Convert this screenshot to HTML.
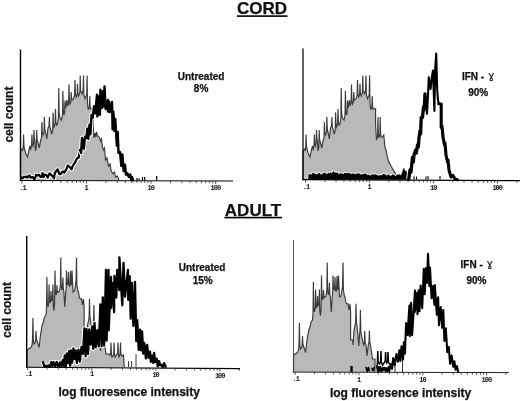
<!DOCTYPE html>
<html><head><meta charset="utf-8"><title>CORD / ADULT histograms</title>
<style>
html,body{margin:0;padding:0;background:#fff;width:520px;height:401px;overflow:hidden}
svg text{font-family:"Liberation Sans",Arial,Helvetica,sans-serif;font-weight:bold;fill:#111;text-anchor:middle;stroke:#111;stroke-width:0.25px}
.ttl{font-size:17px}
.lab{font-size:10px}
.ax{font-size:12px}
svg .gm{font-family:"DejaVu Sans","Liberation Sans",sans-serif;font-weight:normal;font-size:11px;stroke-width:0.15px}
svg text.tk{stroke:none;font-family:"Liberation Mono","DejaVu Sans Mono",monospace;font-weight:bold;font-size:7px;letter-spacing:-1.0px;fill:#111}
</style></head><body>
<svg width="520" height="401" viewBox="0 0 520 401" style="display:block;position:absolute;left:0;top:0;will-change:transform">
<rect width="520" height="401" fill="#fff"/>
<polygon points="20.5,180.6 20.5,152.0 22.0,149.0 22.8,150.0 23.2,147.2 23.6,134.5 24.0,146.4 24.5,149.0 26.0,154.0 27.5,157.0 28.8,151.0 30.0,146.0 30.8,149.0 31.5,146.4 31.9,134.5 32.3,143.9 33.0,146.0 33.6,143.1 34.0,130.0 34.4,139.0 34.9,141.0 35.5,151.0 36.3,147.2 36.7,130.0 37.1,139.8 37.8,142.0 39.3,148.0 40.5,141.0 41.5,137.6 41.9,122.0 42.3,132.7 43.0,135.0 44.0,131.8 44.4,117.0 44.8,129.3 45.5,132.0 46.8,139.0 48.0,128.0 49.0,126.0 49.4,117.0 49.8,126.8 50.5,129.0 51.8,134.0 52.7,130.1 53.1,112.5 53.5,124.4 54.0,127.0 55.1,123.8 55.5,109.0 55.9,122.1 56.5,125.0 57.5,124.0 58.4,117.5 58.8,88.0 59.1,112.6 60.0,118.0 61.5,120.0 62.5,114.8 62.9,91.0 63.3,110.7 64.0,115.0 64.6,112.4 65.0,100.6 65.4,106.7 65.8,108.0 66.9,100.0 67.8,106.0 68.6,102.1 69.0,84.4 69.4,100.5 70.0,104.0 70.9,101.8 71.2,92.0 71.6,98.6 72.2,100.0 73.5,98.8 74.6,95.4 75.0,80.0 75.4,93.9 76.2,97.0 77.1,94.6 77.5,83.8 77.9,93.8 78.7,96.0 79.9,92.3 80.2,75.6 80.6,90.5 81.9,93.8 83.1,90.5 83.5,75.6 83.9,94.6 85.0,98.8 86.7,94.6 87.1,75.6 87.5,102.8 88.1,108.8 89.0,108.8 89.4,106.5 89.8,96.0 90.1,106.5 90.5,108.8 93.1,108.8 93.1,125.0 94.0,138.0 95.0,133.0 95.8,137.0 96.5,132.0 97.5,136.0 98.7,137.0 99.5,137.5 100.5,141.0 101.5,139.0 102.5,147.5 103.5,150.0 104.5,148.0 105.5,160.0 107.0,158.0 108.5,166.0 110.0,164.0 111.2,171.0 113.1,173.8 114.5,172.0 115.5,177.0 117.5,176.0 119.0,180.6" fill="#b9b9b9" stroke="none"/>
<polyline points="20.5,180.6 20.5,152.0 22.0,149.0 22.8,150.0 23.2,147.2 23.6,134.5 24.0,146.4 24.5,149.0 26.0,154.0 27.5,157.0 28.8,151.0 30.0,146.0 30.8,149.0 31.5,146.4 31.9,134.5 32.3,143.9 33.0,146.0 33.6,143.1 34.0,130.0 34.4,139.0 34.9,141.0 35.5,151.0 36.3,147.2 36.7,130.0 37.1,139.8 37.8,142.0 39.3,148.0 40.5,141.0 41.5,137.6 41.9,122.0 42.3,132.7 43.0,135.0 44.0,131.8 44.4,117.0 44.8,129.3 45.5,132.0 46.8,139.0 48.0,128.0 49.0,126.0 49.4,117.0 49.8,126.8 50.5,129.0 51.8,134.0 52.7,130.1 53.1,112.5 53.5,124.4 54.0,127.0 55.1,123.8 55.5,109.0 55.9,122.1 56.5,125.0 57.5,124.0 58.4,117.5 58.8,88.0 59.1,112.6 60.0,118.0 61.5,120.0 62.5,114.8 62.9,91.0 63.3,110.7 64.0,115.0 64.6,112.4 65.0,100.6 65.4,106.7 65.8,108.0 66.9,100.0 67.8,106.0 68.6,102.1 69.0,84.4 69.4,100.5 70.0,104.0 70.9,101.8 71.2,92.0 71.6,98.6 72.2,100.0 73.5,98.8 74.6,95.4 75.0,80.0 75.4,93.9 76.2,97.0 77.1,94.6 77.5,83.8 77.9,93.8 78.7,96.0 79.9,92.3 80.2,75.6 80.6,90.5 81.9,93.8 83.1,90.5 83.5,75.6 83.9,94.6 85.0,98.8 86.7,94.6 87.1,75.6 87.5,102.8 88.1,108.8 89.0,108.8 89.4,106.5 89.8,96.0 90.1,106.5 90.5,108.8 93.1,108.8 93.1,125.0 94.0,138.0 95.0,133.0 95.8,137.0 96.5,132.0 97.5,136.0 98.7,137.0 99.5,137.5 100.5,141.0 101.5,139.0 102.5,147.5 103.5,150.0 104.5,148.0 105.5,160.0 107.0,158.0 108.5,166.0 110.0,164.0 111.2,171.0 113.1,173.8 114.5,172.0 115.5,177.0 117.5,176.0 119.0,180.6" fill="none" stroke="#3a3a3a" stroke-width="1.15" stroke-linejoin="miter"/>
<polyline points="21.0,177.0 21.9,178.5 22.6,178.2 23.9,176.7 25.4,177.1 26.8,176.5 27.5,177.6 29.6,175.3 30.6,177.6 32.9,177.0 34.2,179.4 34.9,178.7 36.0,174.7 36.8,175.7 38.9,174.6 40.6,177.2 41.8,176.5 42.5,173.0 43.5,177.2 44.9,174.5 46.5,175.3 47.7,177.6 49.5,173.3 51.2,174.9 53.0,176.7 54.0,178.3 54.7,173.4 56.4,170.7 57.7,169.4 59.2,173.9 60.6,174.2 61.6,172.6 63.1,171.4 64.3,172.6 66.3,169.4 67.9,165.5 69.5,166.9 71.6,169.3 72.5,166.4 74.1,163.7 75.3,162.2 76.0,160.2 77.7,157.5 78.7,157.8 80.0,150.0" fill="none" stroke="#fff" stroke-width="4.2" stroke-linejoin="round"/>
<polyline points="21.0,177.0 21.9,178.5 22.6,178.2 23.9,176.7 25.4,177.1 26.8,176.5 27.5,177.6 29.6,175.3 30.6,177.6 32.9,177.0 34.2,179.4 34.9,178.7 36.0,174.7 36.8,175.7 38.9,174.6 40.6,177.2 41.8,176.5 42.5,173.0 43.5,177.2 44.9,174.5 46.5,175.3 47.7,177.6 49.5,173.3 51.2,174.9 53.0,176.7 54.0,178.3 54.7,173.4 56.4,170.7 57.7,169.4 59.2,173.9 60.6,174.2 61.6,172.6 63.1,171.4 64.3,172.6 66.3,169.4 67.9,165.5 69.5,166.9 71.6,169.3 72.5,166.4 74.1,163.7 75.3,162.2 76.0,160.2 77.7,157.5 78.7,157.8 80.0,150.0" fill="none" stroke="#000" stroke-width="2.2" stroke-linejoin="round" stroke-linecap="round"/>
<polyline points="80.0,150.0 81.1,152.9 82.0,138.0 83.9,148.7 85.0,136.6 86.4,137.9 87.3,128.8 88.3,139.0 89.5,124.6 90.4,134.3 91.5,115.0 92.7,117.8 94.0,106.1 95.2,113.4 97.0,94.6 97.4,116.4 98.8,96.4 99.9,114.7 100.4,89.6 102.0,107.9 102.9,91.1 103.7,106.6 104.5,86.5 105.7,109.1 108.0,100.0 108.0,111.6 109.0,101.5 109.9,112.1 112.0,102.0 112.6,129.3 113.4,111.6 114.4,130.9 115.3,119.0 116.8,145.6 117.7,131.9 118.5,152.9 120.0,152.0 121.3,166.0 122.4,154.5 123.7,171.2 125.0,164.8 126.0,174.7 127.5,173.3 128.8,177.0 130.2,174.4 131.3,179.9 132.1,177.1 133.1,180.4" fill="none" stroke="#fff" stroke-width="4.3" stroke-linejoin="round"/>
<polyline points="80.0,150.0 81.1,152.9 82.0,138.0 83.9,148.7 85.0,136.6 86.4,137.9 87.3,128.8 88.3,139.0 89.5,124.6 90.4,134.3 91.5,115.0 92.7,117.8 94.0,106.1 95.2,113.4 97.0,94.6 97.4,116.4 98.8,96.4 99.9,114.7 100.4,89.6 102.0,107.9 102.9,91.1 103.7,106.6 104.5,86.5 105.7,109.1 108.0,100.0 108.0,111.6 109.0,101.5 109.9,112.1 112.0,102.0 112.6,129.3 113.4,111.6 114.4,130.9 115.3,119.0 116.8,145.6 117.7,131.9 118.5,152.9 120.0,152.0 121.3,166.0 122.4,154.5 123.7,171.2 125.0,164.8 126.0,174.7 127.5,173.3 128.8,177.0 130.2,174.4 131.3,179.9 132.1,177.1 133.1,180.4" fill="none" stroke="#000" stroke-width="2.4" stroke-linejoin="round" stroke-linecap="round"/>
<line x1="20.5" y1="49.5" x2="20.5" y2="181.1" stroke="#000" stroke-width="1.40"/>
<line x1="19.9" y1="180.50" x2="233.0" y2="181.00" stroke="#000" stroke-width="1.15"/>
<line x1="21.9" y1="180.5" x2="21.9" y2="183.5" stroke="#333" stroke-width="0.8"/>
<line x1="41.3" y1="180.5" x2="41.3" y2="182.8" stroke="#333" stroke-width="0.8"/>
<line x1="52.7" y1="180.6" x2="52.7" y2="182.9" stroke="#333" stroke-width="0.8"/>
<line x1="60.8" y1="180.6" x2="60.8" y2="182.9" stroke="#333" stroke-width="0.8"/>
<line x1="67.1" y1="180.6" x2="67.1" y2="182.9" stroke="#333" stroke-width="0.8"/>
<line x1="72.2" y1="180.6" x2="72.2" y2="182.9" stroke="#333" stroke-width="0.8"/>
<line x1="76.5" y1="180.6" x2="76.5" y2="182.9" stroke="#333" stroke-width="0.8"/>
<line x1="80.2" y1="180.6" x2="80.2" y2="182.9" stroke="#333" stroke-width="0.8"/>
<line x1="83.5" y1="180.6" x2="83.5" y2="182.9" stroke="#333" stroke-width="0.8"/>
<line x1="86.5" y1="180.7" x2="86.5" y2="183.7" stroke="#333" stroke-width="0.8"/>
<line x1="105.9" y1="180.7" x2="105.9" y2="183.0" stroke="#333" stroke-width="0.8"/>
<line x1="117.3" y1="180.7" x2="117.3" y2="183.0" stroke="#333" stroke-width="0.8"/>
<line x1="125.4" y1="180.7" x2="125.4" y2="183.0" stroke="#333" stroke-width="0.8"/>
<line x1="131.7" y1="180.8" x2="131.7" y2="183.1" stroke="#333" stroke-width="0.8"/>
<line x1="136.8" y1="180.8" x2="136.8" y2="183.1" stroke="#333" stroke-width="0.8"/>
<line x1="141.1" y1="180.8" x2="141.1" y2="183.1" stroke="#333" stroke-width="0.8"/>
<line x1="144.8" y1="180.8" x2="144.8" y2="183.1" stroke="#333" stroke-width="0.8"/>
<line x1="148.1" y1="180.8" x2="148.1" y2="183.1" stroke="#333" stroke-width="0.8"/>
<line x1="151.1" y1="180.8" x2="151.1" y2="183.8" stroke="#333" stroke-width="0.8"/>
<line x1="170.5" y1="180.9" x2="170.5" y2="183.2" stroke="#333" stroke-width="0.8"/>
<line x1="181.9" y1="180.9" x2="181.9" y2="183.2" stroke="#333" stroke-width="0.8"/>
<line x1="190.0" y1="180.9" x2="190.0" y2="183.2" stroke="#333" stroke-width="0.8"/>
<line x1="196.3" y1="180.9" x2="196.3" y2="183.2" stroke="#333" stroke-width="0.8"/>
<line x1="201.4" y1="180.9" x2="201.4" y2="183.2" stroke="#333" stroke-width="0.8"/>
<line x1="205.7" y1="180.9" x2="205.7" y2="183.2" stroke="#333" stroke-width="0.8"/>
<line x1="209.4" y1="180.9" x2="209.4" y2="183.2" stroke="#333" stroke-width="0.8"/>
<line x1="212.7" y1="181.0" x2="212.7" y2="183.3" stroke="#333" stroke-width="0.8"/>
<line x1="215.7" y1="181.0" x2="215.7" y2="184.0" stroke="#333" stroke-width="0.8"/>
<text x="22.4" y="189.6" class="tk">.1</text>
<text x="86.2" y="189.6" class="tk">1</text>
<text x="150.8" y="189.5" class="tk">10</text>
<text x="215.4" y="189.5" class="tk">100</text>
<line x1="142.5" y1="180.5" x2="142.5" y2="177.0" stroke="#000" stroke-width="1.2"/>
<line x1="144.7" y1="180.5" x2="144.7" y2="177.0" stroke="#000" stroke-width="1.2"/>
<line x1="156.7" y1="180.5" x2="156.7" y2="176.0" stroke="#000" stroke-width="1.2"/>
<line x1="137.0" y1="180.5" x2="137.0" y2="178.0" stroke="#000" stroke-width="1.2"/>
<line x1="139.0" y1="180.5" x2="139.0" y2="178.5" stroke="#000" stroke-width="1.2"/>
<polygon points="303.0,179.5 303.0,152.0 304.5,149.0 305.3,150.0 305.7,147.2 306.1,134.5 306.5,146.4 307.0,149.0 308.5,154.0 310.0,157.0 311.3,151.0 312.5,146.0 313.3,149.0 314.0,146.4 314.4,134.5 314.8,143.9 315.5,146.0 316.1,143.1 316.5,130.0 316.9,139.0 317.4,141.0 318.0,151.0 318.8,147.2 319.2,130.0 319.6,139.8 320.3,142.0 321.8,148.0 323.0,141.0 324.0,137.6 324.4,122.0 324.8,132.7 325.5,135.0 326.5,131.8 326.9,117.0 327.3,129.3 328.0,132.0 329.3,139.0 330.5,128.0 331.5,126.0 331.9,117.0 332.3,126.8 333.0,129.0 334.3,134.0 335.2,130.1 335.6,112.5 336.0,124.4 336.5,127.0 337.6,123.8 338.0,109.0 338.4,122.1 339.0,125.0 340.0,124.0 340.9,117.5 341.2,88.0 341.6,112.6 342.5,118.0 344.0,120.0 345.0,114.8 345.4,91.0 345.8,110.7 346.5,115.0 347.1,112.4 347.5,100.6 347.9,106.7 348.3,108.0 349.4,100.0 350.3,106.0 351.1,102.1 351.5,84.4 351.9,100.5 352.5,104.0 353.4,101.8 353.8,92.0 354.1,98.6 354.7,100.0 356.0,98.8 357.1,95.4 357.5,80.0 357.9,93.9 358.7,97.0 359.6,94.6 360.0,83.8 360.4,93.8 361.2,96.0 362.4,92.3 362.8,75.6 363.1,90.5 364.4,93.8 365.6,90.5 366.0,75.6 366.4,94.6 367.5,98.8 369.2,94.6 369.6,75.6 370.0,102.8 370.6,108.8 371.5,108.8 371.9,106.5 372.2,96.0 372.6,106.5 373.0,108.8 375.6,108.8 375.6,125.0 376.5,140.0 377.6,135.9 378.0,117.0 378.4,134.2 379.0,138.0 379.9,134.2 380.2,117.0 380.6,133.4 381.2,137.0 382.0,137.5 383.8,135.0 385.0,147.5 386.0,150.0 388.0,160.0 391.0,166.0 393.8,171.0 395.6,173.8 398.0,177.0 400.0,179.5" fill="#b9b9b9" stroke="none"/>
<polyline points="303.0,179.5 303.0,152.0 304.5,149.0 305.3,150.0 305.7,147.2 306.1,134.5 306.5,146.4 307.0,149.0 308.5,154.0 310.0,157.0 311.3,151.0 312.5,146.0 313.3,149.0 314.0,146.4 314.4,134.5 314.8,143.9 315.5,146.0 316.1,143.1 316.5,130.0 316.9,139.0 317.4,141.0 318.0,151.0 318.8,147.2 319.2,130.0 319.6,139.8 320.3,142.0 321.8,148.0 323.0,141.0 324.0,137.6 324.4,122.0 324.8,132.7 325.5,135.0 326.5,131.8 326.9,117.0 327.3,129.3 328.0,132.0 329.3,139.0 330.5,128.0 331.5,126.0 331.9,117.0 332.3,126.8 333.0,129.0 334.3,134.0 335.2,130.1 335.6,112.5 336.0,124.4 336.5,127.0 337.6,123.8 338.0,109.0 338.4,122.1 339.0,125.0 340.0,124.0 340.9,117.5 341.2,88.0 341.6,112.6 342.5,118.0 344.0,120.0 345.0,114.8 345.4,91.0 345.8,110.7 346.5,115.0 347.1,112.4 347.5,100.6 347.9,106.7 348.3,108.0 349.4,100.0 350.3,106.0 351.1,102.1 351.5,84.4 351.9,100.5 352.5,104.0 353.4,101.8 353.8,92.0 354.1,98.6 354.7,100.0 356.0,98.8 357.1,95.4 357.5,80.0 357.9,93.9 358.7,97.0 359.6,94.6 360.0,83.8 360.4,93.8 361.2,96.0 362.4,92.3 362.8,75.6 363.1,90.5 364.4,93.8 365.6,90.5 366.0,75.6 366.4,94.6 367.5,98.8 369.2,94.6 369.6,75.6 370.0,102.8 370.6,108.8 371.5,108.8 371.9,106.5 372.2,96.0 372.6,106.5 373.0,108.8 375.6,108.8 375.6,125.0 376.5,140.0 377.6,135.9 378.0,117.0 378.4,134.2 379.0,138.0 379.9,134.2 380.2,117.0 380.6,133.4 381.2,137.0 382.0,137.5 383.8,135.0 385.0,147.5 386.0,150.0 388.0,160.0 391.0,166.0 393.8,171.0 395.6,173.8 398.0,177.0 400.0,179.5" fill="none" stroke="#3a3a3a" stroke-width="1.15" stroke-linejoin="miter"/>
<polygon points="308.5,179.6 308.5,174.6 309.7,174.5 311.6,174.7 312.7,172.9 313.7,172.9 314.7,173.9 316.4,174.5 317.7,174.1 319.3,173.0 320.8,174.8 322.4,174.2 323.7,172.9 325.3,173.0 326.9,174.6 328.1,172.9 329.8,173.6 330.8,172.3 331.7,174.0 333.3,171.5 335.0,172.7 336.5,173.0 337.8,172.7 338.6,174.7 340.1,173.5 341.8,173.4 343.5,174.5 344.5,173.1 345.6,173.2 347.0,173.2 348.2,173.1 349.9,173.5 351.2,174.1 352.9,173.8 354.6,174.1 355.9,174.2 356.7,174.0 357.7,173.4 359.3,173.6 360.6,174.9 362.0,174.0 363.3,174.5 364.9,173.7 366.2,174.0 367.3,175.2 368.6,174.7 370.2,175.7 371.4,174.9 372.7,174.7 374.2,174.6 375.6,174.7 377.3,175.3 379.0,176.1 380.1,175.0 381.8,175.8 382.8,174.2 384.0,174.2 385.0,174.3 386.5,175.8 388.2,174.4 389.7,175.5 390.7,176.2 392.5,174.7 394.2,175.0 395.5,176.6 397.2,174.5 398.4,175.1 399.5,174.4 400.6,175.4 401.4,174.9 402.7,171.3 403.8,168.2 405.1,170.9 406.9,171.7 408.7,174.9 408.8,179.6" fill="#000" stroke="#fff" stroke-width="2.2" stroke-linejoin="round"/>
<polygon points="308.5,179.6 308.5,174.6 309.7,174.5 311.6,174.7 312.7,172.9 313.7,172.9 314.7,173.9 316.4,174.5 317.7,174.1 319.3,173.0 320.8,174.8 322.4,174.2 323.7,172.9 325.3,173.0 326.9,174.6 328.1,172.9 329.8,173.6 330.8,172.3 331.7,174.0 333.3,171.5 335.0,172.7 336.5,173.0 337.8,172.7 338.6,174.7 340.1,173.5 341.8,173.4 343.5,174.5 344.5,173.1 345.6,173.2 347.0,173.2 348.2,173.1 349.9,173.5 351.2,174.1 352.9,173.8 354.6,174.1 355.9,174.2 356.7,174.0 357.7,173.4 359.3,173.6 360.6,174.9 362.0,174.0 363.3,174.5 364.9,173.7 366.2,174.0 367.3,175.2 368.6,174.7 370.2,175.7 371.4,174.9 372.7,174.7 374.2,174.6 375.6,174.7 377.3,175.3 379.0,176.1 380.1,175.0 381.8,175.8 382.8,174.2 384.0,174.2 385.0,174.3 386.5,175.8 388.2,174.4 389.7,175.5 390.7,176.2 392.5,174.7 394.2,175.0 395.5,176.6 397.2,174.5 398.4,175.1 399.5,174.4 400.6,175.4 401.4,174.9 402.7,171.3 403.8,168.2 405.1,170.9 406.9,171.7 408.7,174.9 408.8,179.6" fill="#000" stroke="#000" stroke-width="0.5" stroke-linejoin="round"/>
<polyline points="408.8,179.0 410.0,170.0 411.0,172.0 412.5,157.5 413.3,162.0 414.0,155.0 415.6,150.0 416.3,153.0 417.5,145.0 418.3,147.0 419.0,138.0 420.0,131.0 420.6,134.0 421.2,117.5 422.5,117.5 423.5,107.0 424.2,110.0 425.0,93.8" fill="none" stroke="#fff" stroke-width="5.3" stroke-linejoin="round"/>
<polyline points="408.8,179.0 410.0,170.0 411.0,172.0 412.5,157.5 413.3,162.0 414.0,155.0 415.6,150.0 416.3,153.0 417.5,145.0 418.3,147.0 419.0,138.0 420.0,131.0 420.6,134.0 421.2,117.5 422.5,117.5 423.5,107.0 424.2,110.0 425.0,93.8" fill="none" stroke="#000" stroke-width="3.3" stroke-linejoin="round" stroke-linecap="round"/>
<polyline points="438.8,103.8 441.2,104.0 441.2,127.5 442.0,126.0 443.0,137.0 444.5,145.0 445.0,143.0 446.0,155.0 447.5,162.0 448.0,160.0 449.0,170.0 451.0,177.0 453.0,175.5 455.0,179.0 457.5,179.8" fill="none" stroke="#fff" stroke-width="5.1" stroke-linejoin="round"/>
<polyline points="438.8,103.8 441.2,104.0 441.2,127.5 442.0,126.0 443.0,137.0 444.5,145.0 445.0,143.0 446.0,155.0 447.5,162.0 448.0,160.0 449.0,170.0 451.0,177.0 453.0,175.5 455.0,179.0 457.5,179.8" fill="none" stroke="#000" stroke-width="3.1" stroke-linejoin="round" stroke-linecap="round"/>
<polyline points="425.0,93.8 426.0,100.0 427.0,113.8 428.0,95.0 428.8,77.4 429.7,85.0 430.6,89.0 431.5,80.0 433.0,70.5 434.4,111.0 435.2,68.0 436.2,53.6 437.2,90.0 438.0,100.0 438.8,103.8" fill="none" stroke="#000" stroke-width="2.1" stroke-linejoin="round" stroke-linecap="round"/>
<line x1="303.0" y1="48.5" x2="303.0" y2="180.2" stroke="#000" stroke-width="1.25"/>
<line x1="302.4" y1="179.60" x2="520.5" y2="180.70" stroke="#000" stroke-width="1.15"/>
<line x1="305.5" y1="179.6" x2="305.5" y2="182.6" stroke="#333" stroke-width="0.8"/>
<line x1="324.8" y1="179.7" x2="324.8" y2="182.0" stroke="#333" stroke-width="0.8"/>
<line x1="336.0" y1="179.8" x2="336.0" y2="182.1" stroke="#333" stroke-width="0.8"/>
<line x1="344.0" y1="179.8" x2="344.0" y2="182.1" stroke="#333" stroke-width="0.8"/>
<line x1="350.2" y1="179.8" x2="350.2" y2="182.1" stroke="#333" stroke-width="0.8"/>
<line x1="355.3" y1="179.9" x2="355.3" y2="182.2" stroke="#333" stroke-width="0.8"/>
<line x1="359.6" y1="179.9" x2="359.6" y2="182.2" stroke="#333" stroke-width="0.8"/>
<line x1="363.3" y1="179.9" x2="363.3" y2="182.2" stroke="#333" stroke-width="0.8"/>
<line x1="366.6" y1="179.9" x2="366.6" y2="182.2" stroke="#333" stroke-width="0.8"/>
<line x1="369.5" y1="179.9" x2="369.5" y2="182.9" stroke="#333" stroke-width="0.8"/>
<line x1="388.8" y1="180.0" x2="388.8" y2="182.3" stroke="#333" stroke-width="0.8"/>
<line x1="400.0" y1="180.1" x2="400.0" y2="182.4" stroke="#333" stroke-width="0.8"/>
<line x1="408.0" y1="180.1" x2="408.0" y2="182.4" stroke="#333" stroke-width="0.8"/>
<line x1="414.2" y1="180.2" x2="414.2" y2="182.5" stroke="#333" stroke-width="0.8"/>
<line x1="419.3" y1="180.2" x2="419.3" y2="182.5" stroke="#333" stroke-width="0.8"/>
<line x1="423.6" y1="180.2" x2="423.6" y2="182.5" stroke="#333" stroke-width="0.8"/>
<line x1="427.3" y1="180.2" x2="427.3" y2="182.5" stroke="#333" stroke-width="0.8"/>
<line x1="430.6" y1="180.2" x2="430.6" y2="182.5" stroke="#333" stroke-width="0.8"/>
<line x1="433.5" y1="180.3" x2="433.5" y2="183.3" stroke="#333" stroke-width="0.8"/>
<line x1="452.8" y1="180.4" x2="452.8" y2="182.7" stroke="#333" stroke-width="0.8"/>
<line x1="464.0" y1="180.4" x2="464.0" y2="182.7" stroke="#333" stroke-width="0.8"/>
<line x1="472.0" y1="180.5" x2="472.0" y2="182.8" stroke="#333" stroke-width="0.8"/>
<line x1="478.2" y1="180.5" x2="478.2" y2="182.8" stroke="#333" stroke-width="0.8"/>
<line x1="483.3" y1="180.5" x2="483.3" y2="182.8" stroke="#333" stroke-width="0.8"/>
<line x1="487.6" y1="180.5" x2="487.6" y2="182.8" stroke="#333" stroke-width="0.8"/>
<line x1="491.3" y1="180.6" x2="491.3" y2="182.9" stroke="#333" stroke-width="0.8"/>
<line x1="494.6" y1="180.6" x2="494.6" y2="182.9" stroke="#333" stroke-width="0.8"/>
<line x1="497.5" y1="180.6" x2="497.5" y2="183.6" stroke="#333" stroke-width="0.8"/>
<line x1="516.8" y1="180.7" x2="516.8" y2="183.0" stroke="#333" stroke-width="0.8"/>
<text x="306.0" y="188.7" class="tk">.1</text>
<text x="369.2" y="189.3" class="tk">1</text>
<text x="433.2" y="189.8" class="tk">10</text>
<text x="497.2" y="190.4" class="tk">100</text>
<line x1="414.0" y1="179.5" x2="414.0" y2="176.5" stroke="#000" stroke-width="1.1"/>
<line x1="416.5" y1="179.5" x2="416.5" y2="176.5" stroke="#000" stroke-width="1.1"/>
<line x1="426.0" y1="179.5" x2="426.0" y2="176.5" stroke="#000" stroke-width="1.1"/>
<line x1="428.0" y1="179.5" x2="428.0" y2="176.0" stroke="#000" stroke-width="1.1"/>
<line x1="440.0" y1="179.5" x2="440.0" y2="176.0" stroke="#000" stroke-width="1.1"/>
<polygon points="27.0,367.0 27.0,351.0 28.5,349.0 31.0,347.5 32.0,345.0 32.5,340.1 32.9,318.0 33.3,339.3 33.8,344.0 35.0,343.0 35.6,340.8 36.0,331.0 36.4,339.2 37.0,341.0 39.1,347.5 40.5,335.0 42.2,325.0 43.5,322.0 44.5,317.0 46.0,315.0 46.5,308.2 46.9,277.0 47.3,301.6 48.0,307.0 48.7,302.9 49.1,284.4 49.5,299.7 50.0,303.0 50.6,300.8 51.0,291.0 51.4,299.2 52.0,301.0 52.5,298.0 52.9,284.4 53.3,305.9 53.9,310.6 54.6,303.4 55.0,270.6 55.4,290.6 56.0,295.0 56.6,293.2 57.0,285.0 57.4,291.1 58.0,292.5 59.5,291.0 60.4,285.0 60.8,257.5 61.1,284.1 61.8,290.0 62.5,287.8 62.9,277.5 63.3,288.6 63.8,291.0 64.8,307.0 65.7,293.0 66.1,289.0 66.5,270.6 66.9,282.4 67.5,285.0 68.1,282.7 68.5,272.0 68.9,284.3 69.5,287.0 70.1,284.1 70.5,271.0 70.9,282.5 71.5,285.0 72.0,270.6 73.0,292.0 74.5,291.0 75.5,285.0 76.1,280.1 76.5,257.5 76.9,285.0 77.9,291.0 78.5,292.0 79.5,298.0 80.5,299.0 81.5,298.8 82.5,305.0 83.5,299.0 84.1,307.0 84.1,335.0 86.0,335.0 86.5,340.0 87.5,325.0 88.5,321.0 89.1,317.0 89.5,298.8 89.9,316.2 90.5,320.0 92.2,341.0 93.0,330.0 93.5,325.5 93.9,305.0 94.3,325.5 94.8,330.0 96.0,335.0 97.0,340.0 97.9,337.5 98.2,326.0 98.6,337.5 99.5,340.0 100.5,351.0 101.8,340.0 102.5,337.4 102.9,325.6 103.3,337.4 104.0,340.0 106.0,354.0 108.5,354.0 110.0,355.0 110.6,352.8 111.0,342.5 111.4,354.4 112.0,357.0 113.0,356.0 113.7,353.6 114.1,342.5 114.5,354.4 115.1,357.0 116.5,355.0 117.6,352.8 118.0,342.5 118.4,354.4 119.0,357.0 119.5,356.0 120.1,353.6 120.5,342.5 120.9,353.6 121.5,356.0 123.5,355.0 124.2,367.0" fill="#b9b9b9" stroke="none"/>
<polyline points="27.0,367.0 27.0,351.0 28.5,349.0 31.0,347.5 32.0,345.0 32.5,340.1 32.9,318.0 33.3,339.3 33.8,344.0 35.0,343.0 35.6,340.8 36.0,331.0 36.4,339.2 37.0,341.0 39.1,347.5 40.5,335.0 42.2,325.0 43.5,322.0 44.5,317.0 46.0,315.0 46.5,308.2 46.9,277.0 47.3,301.6 48.0,307.0 48.7,302.9 49.1,284.4 49.5,299.7 50.0,303.0 50.6,300.8 51.0,291.0 51.4,299.2 52.0,301.0 52.5,298.0 52.9,284.4 53.3,305.9 53.9,310.6 54.6,303.4 55.0,270.6 55.4,290.6 56.0,295.0 56.6,293.2 57.0,285.0 57.4,291.1 58.0,292.5 59.5,291.0 60.4,285.0 60.8,257.5 61.1,284.1 61.8,290.0 62.5,287.8 62.9,277.5 63.3,288.6 63.8,291.0 64.8,307.0 65.7,293.0 66.1,289.0 66.5,270.6 66.9,282.4 67.5,285.0 68.1,282.7 68.5,272.0 68.9,284.3 69.5,287.0 70.1,284.1 70.5,271.0 70.9,282.5 71.5,285.0 72.0,270.6 73.0,292.0 74.5,291.0 75.5,285.0 76.1,280.1 76.5,257.5 76.9,285.0 77.9,291.0 78.5,292.0 79.5,298.0 80.5,299.0 81.5,298.8 82.5,305.0 83.5,299.0 84.1,307.0 84.1,335.0 86.0,335.0 86.5,340.0 87.5,325.0 88.5,321.0 89.1,317.0 89.5,298.8 89.9,316.2 90.5,320.0 92.2,341.0 93.0,330.0 93.5,325.5 93.9,305.0 94.3,325.5 94.8,330.0 96.0,335.0 97.0,340.0 97.9,337.5 98.2,326.0 98.6,337.5 99.5,340.0 100.5,351.0 101.8,340.0 102.5,337.4 102.9,325.6 103.3,337.4 104.0,340.0 106.0,354.0 108.5,354.0 110.0,355.0 110.6,352.8 111.0,342.5 111.4,354.4 112.0,357.0 113.0,356.0 113.7,353.6 114.1,342.5 114.5,354.4 115.1,357.0 116.5,355.0 117.6,352.8 118.0,342.5 118.4,354.4 119.0,357.0 119.5,356.0 120.1,353.6 120.5,342.5 120.9,353.6 121.5,356.0 123.5,355.0 124.2,367.0" fill="none" stroke="#3a3a3a" stroke-width="1.15" stroke-linejoin="miter"/>
<line x1="128.5" y1="367" x2="128.5" y2="361.0" stroke="#3a3a3a" stroke-width="1"/>
<line x1="131.6" y1="367" x2="131.6" y2="361.0" stroke="#3a3a3a" stroke-width="1"/>
<line x1="136.0" y1="367" x2="136.0" y2="354.0" stroke="#3a3a3a" stroke-width="1"/>
<polyline points="43.0,362.0 44.5,366.9 45.5,365.6 47.1,366.6 48.3,365.5 49.9,366.8 51.3,362.0 52.3,366.1 53.5,362.0 55.2,366.2 56.7,362.0 58.3,367.0 59.9,362.4 61.1,366.4 62.7,360.2 63.7,365.9 64.8,355.3 65.8,367.0 66.9,353.3 68.0,362.8 69.2,351.0 70.2,365.8 71.2,350.4 72.1,362.7 73.4,348.5 74.7,359.0 75.7,350.4 76.9,362.9 78.5,349.7 79.8,361.6 81.5,347.0 83.0,353.8 84.4,328.3 85.6,356.3 86.6,329.1 88.1,354.2 89.2,329.5 90.7,344.7 92.2,326.4 93.3,348.9 94.5,322.8 95.8,347.3 97.4,330.1 98.8,346.4 100.4,304.4 101.6,346.3 102.8,297.5 104.1,345.7 106.0,270.0 106.6,340.7 108.5,270.0 108.7,330.3 111.0,277.0 111.1,308.0 112.5,282.9 114.1,312.2 114.4,276.0 116.3,297.5 117.2,270.0 119.3,290.0 119.4,257.5 122.3,305.3 123.5,263.0 125.1,296.7 127.9,270.0 128.3,299.9 129.7,276.1 130.7,318.7 131.9,282.9 133.4,325.9 135.0,282.0 136.3,341.2 137.2,320.1 138.7,349.9 140.0,329.6 141.0,350.4 142.1,331.5 143.2,353.6 144.3,343.0 145.9,358.3 147.1,345.0 148.6,357.8 150.0,351.6 150.9,361.9 152.1,355.7 153.2,362.8 154.1,352.8 155.2,362.0 156.7,358.7 157.8,366.3 159.1,361.2 160.1,365.1 161.2,364.7 162.8,367.0 164.1,363.1 165.7,366.8" fill="none" stroke="#fff" stroke-width="4.3" stroke-linejoin="round"/>
<polyline points="43.0,362.0 44.5,366.9 45.5,365.6 47.1,366.6 48.3,365.5 49.9,366.8 51.3,362.0 52.3,366.1 53.5,362.0 55.2,366.2 56.7,362.0 58.3,367.0 59.9,362.4 61.1,366.4 62.7,360.2 63.7,365.9 64.8,355.3 65.8,367.0 66.9,353.3 68.0,362.8 69.2,351.0 70.2,365.8 71.2,350.4 72.1,362.7 73.4,348.5 74.7,359.0 75.7,350.4 76.9,362.9 78.5,349.7 79.8,361.6 81.5,347.0 83.0,353.8 84.4,328.3 85.6,356.3 86.6,329.1 88.1,354.2 89.2,329.5 90.7,344.7 92.2,326.4 93.3,348.9 94.5,322.8 95.8,347.3 97.4,330.1 98.8,346.4 100.4,304.4 101.6,346.3 102.8,297.5 104.1,345.7 106.0,270.0 106.6,340.7 108.5,270.0 108.7,330.3 111.0,277.0 111.1,308.0 112.5,282.9 114.1,312.2 114.4,276.0 116.3,297.5 117.2,270.0 119.3,290.0 119.4,257.5 122.3,305.3 123.5,263.0 125.1,296.7 127.9,270.0 128.3,299.9 129.7,276.1 130.7,318.7 131.9,282.9 133.4,325.9 135.0,282.0 136.3,341.2 137.2,320.1 138.7,349.9 140.0,329.6 141.0,350.4 142.1,331.5 143.2,353.6 144.3,343.0 145.9,358.3 147.1,345.0 148.6,357.8 150.0,351.6 150.9,361.9 152.1,355.7 153.2,362.8 154.1,352.8 155.2,362.0 156.7,358.7 157.8,366.3 159.1,361.2 160.1,365.1 161.2,364.7 162.8,367.0 164.1,363.1 165.7,366.8" fill="none" stroke="#000" stroke-width="2.3" stroke-linejoin="round" stroke-linecap="round"/>
<line x1="26.7" y1="236.0" x2="26.7" y2="367.8" stroke="#000" stroke-width="1.40"/>
<line x1="26.1" y1="367.20" x2="240.0" y2="368.60" stroke="#000" stroke-width="1.15"/>
<line x1="27.7" y1="367.2" x2="27.7" y2="370.2" stroke="#333" stroke-width="0.8"/>
<line x1="47.0" y1="367.3" x2="47.0" y2="369.6" stroke="#333" stroke-width="0.8"/>
<line x1="58.3" y1="367.4" x2="58.3" y2="369.7" stroke="#333" stroke-width="0.8"/>
<line x1="66.3" y1="367.5" x2="66.3" y2="369.8" stroke="#333" stroke-width="0.8"/>
<line x1="72.5" y1="367.5" x2="72.5" y2="369.8" stroke="#333" stroke-width="0.8"/>
<line x1="77.6" y1="367.5" x2="77.6" y2="369.8" stroke="#333" stroke-width="0.8"/>
<line x1="81.9" y1="367.6" x2="81.9" y2="369.9" stroke="#333" stroke-width="0.8"/>
<line x1="85.6" y1="367.6" x2="85.6" y2="369.9" stroke="#333" stroke-width="0.8"/>
<line x1="88.9" y1="367.6" x2="88.9" y2="369.9" stroke="#333" stroke-width="0.8"/>
<line x1="91.8" y1="367.6" x2="91.8" y2="370.6" stroke="#333" stroke-width="0.8"/>
<line x1="111.1" y1="367.8" x2="111.1" y2="370.1" stroke="#333" stroke-width="0.8"/>
<line x1="122.4" y1="367.8" x2="122.4" y2="370.1" stroke="#333" stroke-width="0.8"/>
<line x1="130.4" y1="367.9" x2="130.4" y2="370.2" stroke="#333" stroke-width="0.8"/>
<line x1="136.6" y1="367.9" x2="136.6" y2="370.2" stroke="#333" stroke-width="0.8"/>
<line x1="141.7" y1="368.0" x2="141.7" y2="370.3" stroke="#333" stroke-width="0.8"/>
<line x1="146.0" y1="368.0" x2="146.0" y2="370.3" stroke="#333" stroke-width="0.8"/>
<line x1="149.7" y1="368.0" x2="149.7" y2="370.3" stroke="#333" stroke-width="0.8"/>
<line x1="153.0" y1="368.0" x2="153.0" y2="370.3" stroke="#333" stroke-width="0.8"/>
<line x1="155.9" y1="368.0" x2="155.9" y2="371.0" stroke="#333" stroke-width="0.8"/>
<line x1="175.2" y1="368.2" x2="175.2" y2="370.5" stroke="#333" stroke-width="0.8"/>
<line x1="186.5" y1="368.2" x2="186.5" y2="370.5" stroke="#333" stroke-width="0.8"/>
<line x1="194.5" y1="368.3" x2="194.5" y2="370.6" stroke="#333" stroke-width="0.8"/>
<line x1="200.7" y1="368.3" x2="200.7" y2="370.6" stroke="#333" stroke-width="0.8"/>
<line x1="205.8" y1="368.4" x2="205.8" y2="370.7" stroke="#333" stroke-width="0.8"/>
<line x1="210.1" y1="368.4" x2="210.1" y2="370.7" stroke="#333" stroke-width="0.8"/>
<line x1="213.8" y1="368.4" x2="213.8" y2="370.7" stroke="#333" stroke-width="0.8"/>
<line x1="217.1" y1="368.4" x2="217.1" y2="370.7" stroke="#333" stroke-width="0.8"/>
<line x1="220.0" y1="368.5" x2="220.0" y2="371.5" stroke="#333" stroke-width="0.8"/>
<line x1="239.3" y1="368.6" x2="239.3" y2="370.9" stroke="#333" stroke-width="0.8"/>
<text x="28.2" y="375.5" class="tk">.1</text>
<text x="91.5" y="376.4" class="tk">1</text>
<text x="155.6" y="377.3" class="tk">10</text>
<text x="219.7" y="378.2" class="tk">100</text>
<polygon points="293.5,372.0 293.5,356.0 295.0,354.0 297.5,352.5 298.5,350.0 299.0,345.1 299.4,323.0 299.8,344.3 300.3,349.0 301.5,348.0 302.1,345.8 302.5,336.0 302.9,344.2 303.5,346.0 305.6,352.5 307.0,340.0 308.8,330.0 310.0,327.0 311.0,322.0 312.5,320.0 313.0,313.2 313.4,282.0 313.8,306.6 314.5,312.0 315.2,307.9 315.6,289.4 316.0,304.7 316.5,308.0 317.1,305.8 317.5,296.0 317.9,304.2 318.5,306.0 319.0,303.0 319.4,289.4 319.8,310.9 320.4,315.6 321.1,308.4 321.5,275.6 321.9,295.6 322.5,300.0 323.1,298.2 323.5,290.0 323.9,296.1 324.5,297.5 326.0,296.0 326.9,290.0 327.2,262.5 327.6,289.1 328.3,295.0 329.0,292.8 329.4,282.5 329.8,293.6 330.3,296.0 331.2,312.0 332.2,298.0 332.6,294.0 333.0,275.6 333.4,287.4 334.0,290.0 334.6,287.7 335.0,277.0 335.4,289.3 336.0,292.0 336.6,289.1 337.0,276.0 337.4,287.5 338.0,290.0 338.5,275.6 339.5,297.0 341.0,296.0 342.0,290.0 342.6,285.1 343.0,262.5 343.4,290.0 344.4,296.0 345.0,297.0 346.0,303.0 347.0,304.0 348.0,303.8 349.0,310.0 350.0,304.0 350.6,312.0 350.6,340.0 352.5,340.0 353.0,345.0 354.0,330.0 355.0,326.0 355.6,322.0 356.0,303.8 356.4,321.2 357.0,325.0 358.8,346.0 359.5,335.0 360.0,330.5 360.4,310.0 360.8,330.5 361.3,335.0 362.5,340.0 363.5,345.0 364.4,342.5 364.8,331.0 365.1,342.5 366.0,345.0 367.0,356.0 368.3,345.0 369.0,342.4 369.4,330.6 369.8,342.4 370.5,345.0 372.5,359.0 375.0,359.0 375.0,372.0" fill="#b9b9b9" stroke="none"/>
<polyline points="293.5,372.0 293.5,356.0 295.0,354.0 297.5,352.5 298.5,350.0 299.0,345.1 299.4,323.0 299.8,344.3 300.3,349.0 301.5,348.0 302.1,345.8 302.5,336.0 302.9,344.2 303.5,346.0 305.6,352.5 307.0,340.0 308.8,330.0 310.0,327.0 311.0,322.0 312.5,320.0 313.0,313.2 313.4,282.0 313.8,306.6 314.5,312.0 315.2,307.9 315.6,289.4 316.0,304.7 316.5,308.0 317.1,305.8 317.5,296.0 317.9,304.2 318.5,306.0 319.0,303.0 319.4,289.4 319.8,310.9 320.4,315.6 321.1,308.4 321.5,275.6 321.9,295.6 322.5,300.0 323.1,298.2 323.5,290.0 323.9,296.1 324.5,297.5 326.0,296.0 326.9,290.0 327.2,262.5 327.6,289.1 328.3,295.0 329.0,292.8 329.4,282.5 329.8,293.6 330.3,296.0 331.2,312.0 332.2,298.0 332.6,294.0 333.0,275.6 333.4,287.4 334.0,290.0 334.6,287.7 335.0,277.0 335.4,289.3 336.0,292.0 336.6,289.1 337.0,276.0 337.4,287.5 338.0,290.0 338.5,275.6 339.5,297.0 341.0,296.0 342.0,290.0 342.6,285.1 343.0,262.5 343.4,290.0 344.4,296.0 345.0,297.0 346.0,303.0 347.0,304.0 348.0,303.8 349.0,310.0 350.0,304.0 350.6,312.0 350.6,340.0 352.5,340.0 353.0,345.0 354.0,330.0 355.0,326.0 355.6,322.0 356.0,303.8 356.4,321.2 357.0,325.0 358.8,346.0 359.5,335.0 360.0,330.5 360.4,310.0 360.8,330.5 361.3,335.0 362.5,340.0 363.5,345.0 364.4,342.5 364.8,331.0 365.1,342.5 366.0,345.0 367.0,356.0 368.3,345.0 369.0,342.4 369.4,330.6 369.8,342.4 370.5,345.0 372.5,359.0 375.0,359.0 375.0,372.0" fill="none" stroke="#3a3a3a" stroke-width="1.15" stroke-linejoin="miter"/>
<polyline points="391.0,364.1 392.1,368.9 393.2,358.1 394.8,365.2 396.4,354.1 398.0,361.6 399.3,350.3 400.3,360.9 401.5,346.3 403.0,359.4 403.9,342.4 404.9,353.8 406.1,323.0 407.6,334.9 409.4,305.6 409.8,336.1 411.1,302.9 412.1,335.2 415.0,290.6 414.8,311.9 416.5,293.1 417.5,314.1 418.5,290.2 419.5,311.2 420.6,285.6 422.2,308.1 423.8,268.8 424.7,294.2 425.9,268.1 427.0,282.9 428.0,253.8 429.4,286.3 430.0,267.5 431.6,298.3 432.9,286.1 434.4,304.7 434.8,285.0 436.8,314.6 438.1,297.4 439.0,325.2 440.7,307.0 442.2,327.8 443.3,310.1 444.4,340.9 445.8,328.2 447.3,352.2 448.8,347.1 450.1,363.8 451.6,355.5 453.3,366.8 454.4,361.3 455.5,369.6 457.0,366.2 458.0,371.4" fill="none" stroke="#fff" stroke-width="4.1" stroke-linejoin="round"/>
<polyline points="391.0,364.1 392.1,368.9 393.2,358.1 394.8,365.2 396.4,354.1 398.0,361.6 399.3,350.3 400.3,360.9 401.5,346.3 403.0,359.4 403.9,342.4 404.9,353.8 406.1,323.0 407.6,334.9 409.4,305.6 409.8,336.1 411.1,302.9 412.1,335.2 415.0,290.6 414.8,311.9 416.5,293.1 417.5,314.1 418.5,290.2 419.5,311.2 420.6,285.6 422.2,308.1 423.8,268.8 424.7,294.2 425.9,268.1 427.0,282.9 428.0,253.8 429.4,286.3 430.0,267.5 431.6,298.3 432.9,286.1 434.4,304.7 434.8,285.0 436.8,314.6 438.1,297.4 439.0,325.2 440.7,307.0 442.2,327.8 443.3,310.1 444.4,340.9 445.8,328.2 447.3,352.2 448.8,347.1 450.1,363.8 451.6,355.5 453.3,366.8 454.4,361.3 455.5,369.6 457.0,366.2 458.0,371.4" fill="none" stroke="#000" stroke-width="2.1" stroke-linejoin="round" stroke-linecap="round"/>
<polyline points="366.0,367.6 367.3,371.4 368.3,367.5 369.3,370.4" fill="none" stroke="#000" stroke-width="1.6" stroke-linejoin="round" stroke-linecap="round"/>
<polyline points="372.0,368.3 373.0,370.6 374.1,367.6" fill="none" stroke="#000" stroke-width="1.6" stroke-linejoin="round" stroke-linecap="round"/>
<polyline points="377.0,366.9 377.7,371.5 378.7,366.8 379.6,371.5 380.5,366.6 381.7,371.5 382.9,367.6 383.6,370.2 384.8,367.7 385.6,371.3 386.6,368.0 387.6,371.3 388.6,366.6 389.3,371.5 390.5,366.6" fill="none" stroke="#000" stroke-width="1.8" stroke-linejoin="round" stroke-linecap="round"/>
<rect x="350.3" y="366" width="2.4" height="6" fill="#000"/>
<polyline points="376.5,367.0 377.4,364.1 377.8,351.0 378.1,361.7 379.3,364.0 380.6,361.7 381.0,351.0 381.4,362.5 382.5,365.0 384.0,363.0 385.2,361.0 385.6,352.0 386.0,361.0 386.8,363.0 387.6,361.0 388.0,352.0 388.4,361.8 389.5,364.0 391.0,367.0" fill="none" stroke="#000" stroke-width="1.5" stroke-linejoin="miter"/>
<polyline points="395,372 395,360 402.5,360 402.5,372" fill="none" stroke="#222" stroke-width="0.9"/>
<line x1="293.5" y1="240.0" x2="293.5" y2="372.7" stroke="#444" stroke-width="0.90"/>
<line x1="292.9" y1="372.10" x2="508.8" y2="372.60" stroke="#222" stroke-width="1.00"/>
<line x1="295.2" y1="372.1" x2="295.2" y2="375.1" stroke="#333" stroke-width="0.8"/>
<line x1="314.4" y1="372.1" x2="314.4" y2="374.4" stroke="#333" stroke-width="0.8"/>
<line x1="325.6" y1="372.2" x2="325.6" y2="374.5" stroke="#333" stroke-width="0.8"/>
<line x1="333.6" y1="372.2" x2="333.6" y2="374.5" stroke="#333" stroke-width="0.8"/>
<line x1="339.8" y1="372.2" x2="339.8" y2="374.5" stroke="#333" stroke-width="0.8"/>
<line x1="344.8" y1="372.2" x2="344.8" y2="374.5" stroke="#333" stroke-width="0.8"/>
<line x1="349.1" y1="372.2" x2="349.1" y2="374.5" stroke="#333" stroke-width="0.8"/>
<line x1="352.8" y1="372.2" x2="352.8" y2="374.5" stroke="#333" stroke-width="0.8"/>
<line x1="356.1" y1="372.2" x2="356.1" y2="374.5" stroke="#333" stroke-width="0.8"/>
<line x1="359.0" y1="372.3" x2="359.0" y2="375.3" stroke="#333" stroke-width="0.8"/>
<line x1="378.2" y1="372.3" x2="378.2" y2="374.6" stroke="#333" stroke-width="0.8"/>
<line x1="389.4" y1="372.3" x2="389.4" y2="374.6" stroke="#333" stroke-width="0.8"/>
<line x1="397.4" y1="372.3" x2="397.4" y2="374.6" stroke="#333" stroke-width="0.8"/>
<line x1="403.6" y1="372.4" x2="403.6" y2="374.7" stroke="#333" stroke-width="0.8"/>
<line x1="408.6" y1="372.4" x2="408.6" y2="374.7" stroke="#333" stroke-width="0.8"/>
<line x1="412.9" y1="372.4" x2="412.9" y2="374.7" stroke="#333" stroke-width="0.8"/>
<line x1="416.6" y1="372.4" x2="416.6" y2="374.7" stroke="#333" stroke-width="0.8"/>
<line x1="419.9" y1="372.4" x2="419.9" y2="374.7" stroke="#333" stroke-width="0.8"/>
<line x1="422.8" y1="372.4" x2="422.8" y2="375.4" stroke="#333" stroke-width="0.8"/>
<line x1="442.0" y1="372.4" x2="442.0" y2="374.7" stroke="#333" stroke-width="0.8"/>
<line x1="453.2" y1="372.5" x2="453.2" y2="374.8" stroke="#333" stroke-width="0.8"/>
<line x1="461.2" y1="372.5" x2="461.2" y2="374.8" stroke="#333" stroke-width="0.8"/>
<line x1="467.4" y1="372.5" x2="467.4" y2="374.8" stroke="#333" stroke-width="0.8"/>
<line x1="472.4" y1="372.5" x2="472.4" y2="374.8" stroke="#333" stroke-width="0.8"/>
<line x1="476.7" y1="372.5" x2="476.7" y2="374.8" stroke="#333" stroke-width="0.8"/>
<line x1="480.4" y1="372.5" x2="480.4" y2="374.8" stroke="#333" stroke-width="0.8"/>
<line x1="483.7" y1="372.5" x2="483.7" y2="374.8" stroke="#333" stroke-width="0.8"/>
<line x1="486.6" y1="372.5" x2="486.6" y2="375.5" stroke="#333" stroke-width="0.8"/>
<line x1="505.8" y1="372.6" x2="505.8" y2="374.9" stroke="#333" stroke-width="0.8"/>
<text x="295.7" y="381.4" class="tk">.1</text>
<text x="358.7" y="381.7" class="tk">1</text>
<text x="422.5" y="382.1" class="tk">10</text>
<text x="486.3" y="382.4" class="tk">100</text>
<text x="262" y="14.3" class="ttl">CORD</text>
<rect x="237" y="15.3" width="50.5" height="1.6" fill="#000"/>
<text x="253" y="215.6" class="ttl">ADULT</text>
<rect x="224.5" y="216.8" width="57.5" height="1.6" fill="#000"/>
<text x="201.1" y="79.6" class="lab">Untreated</text>
<text x="201.1" y="91.6" class="lab">8%</text>
<text x="202.1" y="270.7" class="lab">Untreated</text>
<text x="202.7" y="283.6" class="lab">15%</text>
<text x="461.9" y="80.3" class="lab" style="text-anchor:start">IFN - <tspan class="gm" dx="1.0" dy="-1.7">ɣ</tspan></text>
<text x="478.2" y="95.8" class="lab">90%</text>
<text x="460.5" y="268.3" class="lab" style="text-anchor:start">IFN - <tspan class="gm" dx="1.0" dy="-1.7">ɣ</tspan></text>
<text x="476.5" y="283.7" class="lab">90%</text>
<text transform="translate(12.6,114.6) rotate(-90)" class="ax">cell count</text>
<text transform="translate(11.2,310) rotate(-90)" class="ax">cell count</text>
<text x="129.2" y="395.7" class="ax">log fluoresence intensity</text>
<text x="400.6" y="397" class="ax">log fluoresence intensity</text>
</svg>
</body></html>
